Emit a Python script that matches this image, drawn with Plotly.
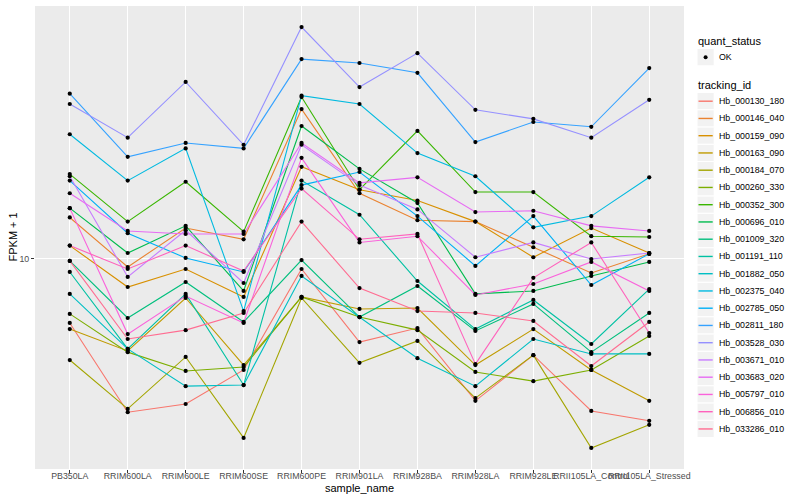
import numpy as np
import plotly.graph_objects as go

samples = ["PB350LA", "RRIM600LA", "RRIM600LE", "RRIM600SE", "RRIM600PE", "RRIM901LA",
           "RRIM928BA", "RRIM928LA", "RRIM928LE", "RRII105LA_Control", "RRII105LA_Stressed"]

tracking_ids = ["Hb_000130_180", "Hb_000146_040", "Hb_000159_090", "Hb_000163_090",
                "Hb_000184_070", "Hb_000260_330", "Hb_000352_300", "Hb_000696_010",
                "Hb_001009_320", "Hb_001191_110", "Hb_001882_050", "Hb_002375_040",
                "Hb_002785_050", "Hb_002811_180", "Hb_003528_030", "Hb_003671_010",
                "Hb_003683_020", "Hb_005797_010", "Hb_006856_010", "Hb_033286_010"]

# FPKM + 1 per sample
Hb_000130_180 = [6.92, 4.14, 4.34, 5.28, 9.44, 6.20, 6.72, 4.42, 5.75, 4.17, 3.94]
Hb_000146_040 = [12.7, 9.55, 11.95, 11.2, 23.7, 14.6, 12.5, 12.4, 10.7, 9.23, 10.3]
Hb_000159_090 = [10.8, 8.51, 9.44, 8.04, 17.0, 14.9, 14.0, 12.4, 10.1, 11.95, 10.35]
Hb_000163_090 = [6.68, 5.89, 7.99, 5.43, 8.04, 7.50, 7.54, 5.43, 6.68, 5.28, 4.42]
Hb_000184_070 = [5.59, 4.22, 5.69, 3.57, 7.99, 5.50, 6.24, 4.49, 5.75, 3.37, 3.85]
Hb_000260_330 = [7.29, 5.85, 5.25, 5.37, 8.04, 7.16, 6.64, 5.22, 4.95, 5.28, 6.42]
Hb_000352_300 = [16.3, 12.4, 15.6, 11.7, 25.4, 14.9, 20.9, 14.7, 14.7, 11.4, 11.35]
Hb_000696_010 = [13.4, 10.35, 12.1, 8.32, 21.5, 16.8, 13.8, 8.18, 8.32, 9.07, 9.83]
Hb_001009_320 = [9.89, 7.12, 8.76, 6.96, 9.94, 7.16, 8.56, 6.61, 7.72, 5.85, 7.33]
Hb_001191_110 = [9.28, 5.96, 8.18, 4.84, 15.7, 12.9, 8.81, 6.68, 7.90, 6.13, 8.41]
Hb_001882_050 = [8.18, 5.96, 4.81, 4.84, 9.07, 7.16, 5.65, 4.81, 6.31, 5.79, 5.79]
Hb_002375_040 = [20.5, 15.7, 18.9, 7.41, 25.6, 24.4, 18.4, 16.1, 12.0, 12.8, 16.0]
Hb_002785_050 = [15.7, 11.6, 10.06, 9.28, 15.3, 16.5, 12.8, 9.61, 12.8, 8.61, 10.3]
Hb_002811_180 = [25.9, 18.0, 19.5, 18.9, 31.6, 30.9, 29.2, 19.6, 22.0, 21.4, 30.0]
Hb_003528_030 = [24.4, 20.1, 27.7, 19.3, 38.0, 26.9, 32.7, 23.6, 22.4, 20.1, 25.0]
Hb_003671_010 = [16.1, 9.02, 11.8, 8.71, 19.3, 15.3, 13.3, 10.1, 11.0, 10.0, 10.35]
Hb_003683_020 = [14.6, 11.75, 11.55, 11.55, 19.5, 15.5, 16.0, 13.1, 13.2, 12.1, 11.75]
Hb_005797_010 = [13.4, 6.49, 8.08, 6.92, 17.9, 11.0, 11.4, 8.13, 8.66, 9.83, 8.32]
Hb_006856_010 = [10.8, 9.44, 10.8, 9.33, 15.0, 11.2, 11.55, 5.46, 8.97, 11.0, 6.53]
Hb_033286_010 = [9.89, 6.31, 6.64, 7.33, 12.4, 8.46, 7.41, 7.33, 7.00, 5.40, 6.96]

series = [Hb_000130_180, Hb_000146_040, Hb_000159_090, Hb_000163_090, Hb_000184_070,
          Hb_000260_330, Hb_000352_300, Hb_000696_010, Hb_001009_320, Hb_001191_110,
          Hb_001882_050, Hb_002375_040, Hb_002785_050, Hb_002811_180, Hb_003528_030,
          Hb_003671_010, Hb_003683_020, Hb_005797_010, Hb_006856_010, Hb_033286_010]

colors = ["#F8766D", "#EA8331", "#D89000", "#C09B00", "#A3A500", "#7CAE00", "#39B600",
          "#00BB4E", "#00BF7D", "#00C1A3", "#00BFC4", "#00BAE0", "#00B0F6", "#35A2FF",
          "#9590FF", "#C77CFF", "#E76BF3", "#FA62DB", "#FF62BC", "#FF6C91"]

FONT = "Liberation Sans, Arial, Helvetica, sans-serif"

fig = go.Figure()
for tid, vals, col in zip(tracking_ids, series, colors):
    fig.add_trace(go.Scatter(x=samples, y=vals, mode="lines", name=tid,
                             line=dict(color=col, width=1.1), showlegend=False,
                             hoverinfo="skip"))

all_x = [s for _ in series for s in samples]
all_y = [v for vals in series for v in vals]
fig.add_trace(go.Scatter(x=all_x, y=all_y, mode="markers", name="OK",
                         marker=dict(color="black", size=4.2, symbol="circle"),
                         showlegend=False))

# y-range with ggplot-like 5% expansion (in log space)
lo = np.log10(min(all_y))
hi = np.log10(max(all_y))
pad = 0.05 * (hi - lo)

# plot area in pixels
L, R, T, B = 35, 684, 6, 469
W, H = R - L, B - T


def px2x(px):
    return (px - L) / W


def py2y(py):
    return (B - py) / H


shapes = []
annotations = []

# axis titles
annotations.append(dict(text="sample_name", xref="paper", yref="paper",
                        x=px2x((L + R) / 2), y=py2y(488), xanchor="center", yanchor="middle",
                        showarrow=False, font=dict(family=FONT, size=11, color="black")))
annotations.append(dict(text="FPKM + 1", xref="paper", yref="paper",
                        x=px2x(12), y=py2y((T + B) / 2), xanchor="center", yanchor="middle",
                        textangle=-90, showarrow=False,
                        font=dict(family=FONT, size=11, color="black")))

# manual ggplot-style legend
kx0, kx1 = 697, 714.2
ks = 17.25
annotations.append(dict(text="quant_status", xref="paper", yref="paper",
                        x=px2x(696), y=py2y(40.5), xanchor="left", yanchor="middle",
                        showarrow=False, font=dict(family=FONT, size=11, color="black")))
cy = 57.2
shapes.append(dict(type="rect", xref="paper", yref="paper",
                   x0=px2x(kx0), x1=px2x(kx1), y0=py2y(cy - ks / 2), y1=py2y(cy + ks / 2),
                   fillcolor="#F2F2F2", line=dict(color="white", width=1), layer="above"))
shapes.append(dict(type="circle", xref="paper", yref="paper",
                   x0=px2x(703.6), x1=px2x(707.6), y0=py2y(cy - 2), y1=py2y(cy + 2),
                   fillcolor="black", line=dict(color="black", width=0), layer="above"))
annotations.append(dict(text="OK", xref="paper", yref="paper",
                        x=px2x(717), y=py2y(cy), xanchor="left", yanchor="middle",
                        showarrow=False, font=dict(family=FONT, size=8.8, color="black")))

annotations.append(dict(text="tracking_id", xref="paper", yref="paper",
                        x=px2x(696), y=py2y(85), xanchor="left", yanchor="middle",
                        showarrow=False, font=dict(family=FONT, size=11, color="black")))
for i, (tid, col) in enumerate(zip(tracking_ids, colors)):
    cy = 101.2 + ks * i
    shapes.append(dict(type="rect", xref="paper", yref="paper",
                       x0=px2x(kx0), x1=px2x(kx1), y0=py2y(cy - ks / 2), y1=py2y(cy + ks / 2),
                       fillcolor="#F2F2F2", line=dict(color="white", width=1), layer="above"))
    shapes.append(dict(type="line", xref="paper", yref="paper",
                       x0=px2x(698.5), x1=px2x(712.7), y0=py2y(cy), y1=py2y(cy),
                       line=dict(color=col, width=1.4), layer="above"))
    annotations.append(dict(text=tid, xref="paper", yref="paper",
                            x=px2x(717), y=py2y(cy), xanchor="left", yanchor="middle",
                            showarrow=False, font=dict(family=FONT, size=8.8, color="black")))

fig.update_layout(
    width=800, height=500,
    margin=dict(l=L, r=800 - R, t=T, b=500 - B, pad=0),
    paper_bgcolor="white", plot_bgcolor="#EBEBEB",
    showlegend=False,
    font=dict(family=FONT, size=8.8, color="#4D4D4D"),
    shapes=shapes, annotations=annotations,
    xaxis=dict(type="category", categoryorder="array", categoryarray=samples,
               range=[-0.6, len(samples) - 1 + 0.6], tickangle=0,
               showgrid=True, gridcolor="white", gridwidth=1.1, zeroline=False,
               showline=False, ticks="outside", ticklen=3, tickwidth=1, tickcolor="#333333",
               ticklabelstandoff=-5,
               tickfont=dict(family=FONT, size=8.8, color="#4D4D4D"), automargin=False),
    yaxis=dict(type="log", range=[lo - pad, hi + pad], tickvals=[10], ticktext=["10"],
               showgrid=True, gridcolor="white", gridwidth=1.1, zeroline=False,
               showline=False, ticks="outside", ticklen=3, tickwidth=1, tickcolor="#333333",
               tickfont=dict(family=FONT, size=8.8, color="#4D4D4D"), automargin=False),
)

fig.write_html("out.html", config={"displayModeBar": False},
               post_script="document.body.style.margin='0px';document.body.style.overflow='hidden';")
